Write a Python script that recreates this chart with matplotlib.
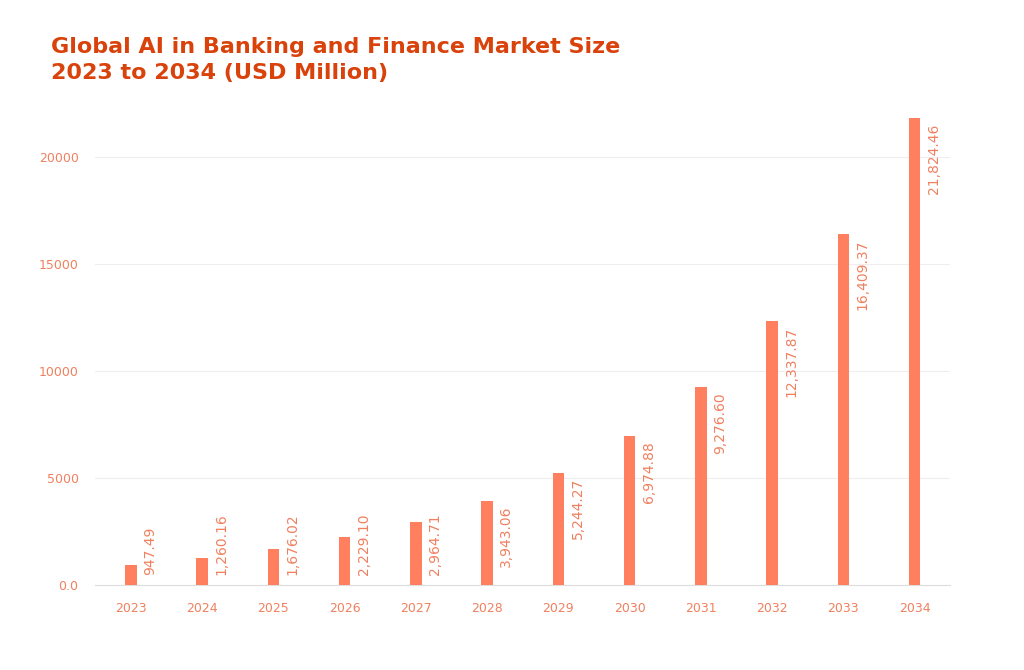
import matplotlib
matplotlib.use('Agg')
import matplotlib.pyplot as plt

years = ['2023', '2024', '2025', '2026', '2027', '2028', '2029', '2030', '2031', '2032', '2033', '2034']
values = [947.49, 1260.16, 1676.02, 2229.10, 2964.71, 3943.06, 5244.27, 6974.88, 9276.60, 12337.87, 16409.37, 21824.46]
yticks = [0, 5000, 10000, 15000, 20000]
ytick_labels = ['0.0', '5000', '10000', '15000', '20000']

bar_color = '#ff7f5f'
text_color = '#f0805f'

fig = plt.figure(figsize=(10.24, 6.70), dpi=100)
ax = fig.add_axes([0.093, 0.127, 0.835, 0.718])
x = range(len(years))
ax.bar(x, values, width=0.16, color=bar_color, zorder=3)

for i, v in enumerate(values):
    label = f"{v:,.2f}"
    if v < 3100:
        ax.text(i + 0.27, 470, label, rotation=90, va='bottom', ha='center',
                color=text_color, fontsize=10)
    else:
        ax.text(i + 0.27, v - 250, label, rotation=90, va='top', ha='center',
                color=text_color, fontsize=10)

ax.set_xlim(-0.5, len(years) - 0.5)
ax.set_ylim(0, 22500)
ax.set_xticks(list(x))
ax.set_xticklabels(years)
ax.set_yticks(yticks)
ax.set_yticklabels(ytick_labels)
ax.tick_params(colors=text_color, labelsize=9, length=0, pad=12)
ax.grid(axis='y', color='#eeeeee', linewidth=0.8, zorder=0)
for s in ['top', 'right', 'left']:
    ax.spines[s].set_visible(False)
ax.spines['bottom'].set_color('#dddddd')

fig.text(0.05, 0.945, 'Global AI in Banking and Finance Market Size\n2023 to 2034 (USD Million)',
         color='#d9420b', fontsize=16, fontweight='bold', va='top', linespacing=1.4)

fig.savefig('out.png')
